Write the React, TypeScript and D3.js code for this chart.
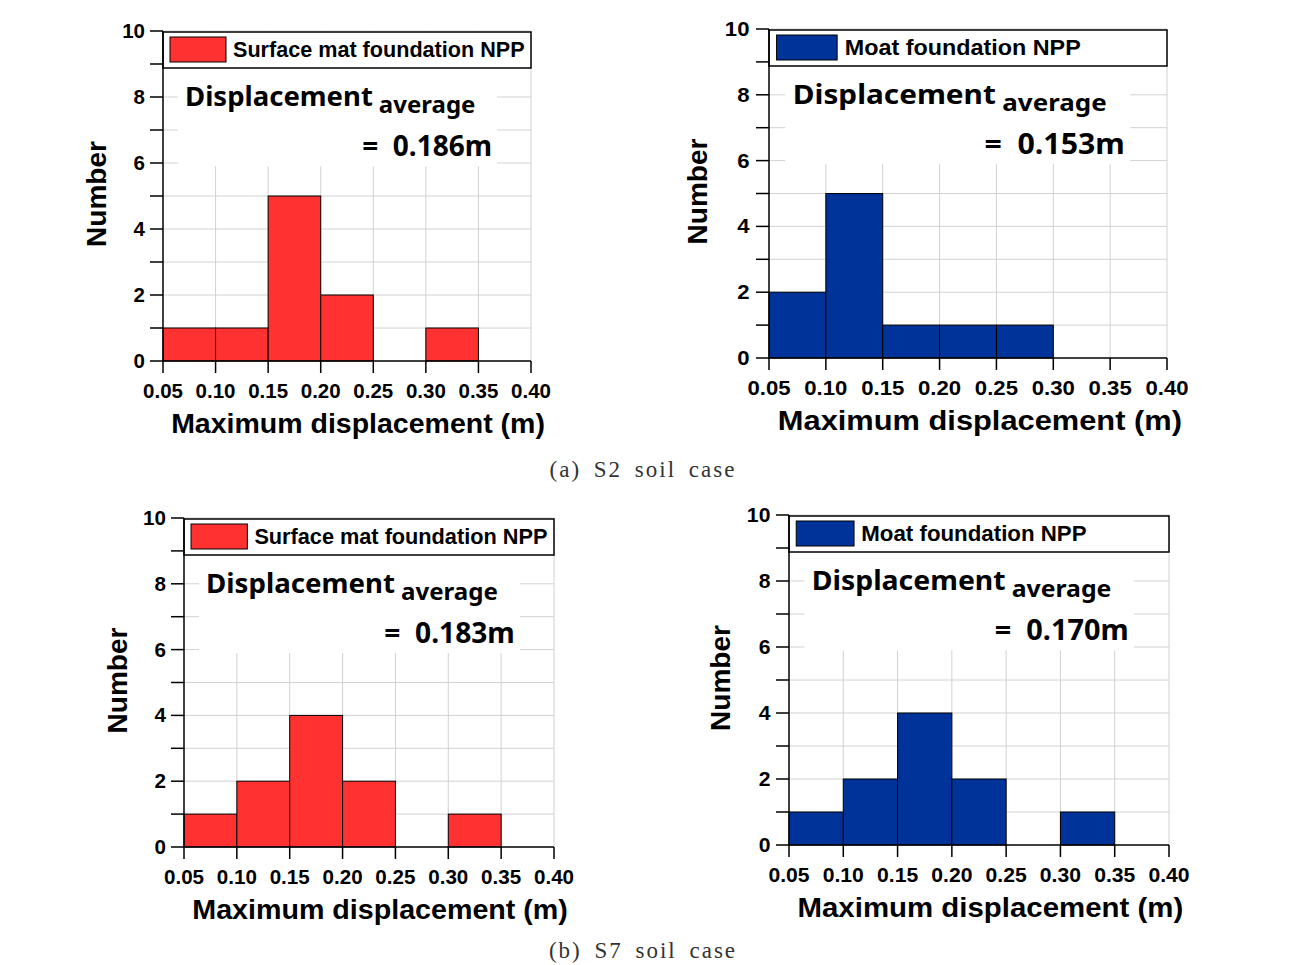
import React, { useEffect, useRef } from 'react';
import * as d3 from 'd3';

// bin edges of the histograms (m)
const binEdges = [0.05, 0.1, 0.15, 0.2, 0.25, 0.3, 0.35, 0.4];
const xTickLabels = ['0.05', '0.10', '0.15', '0.20', '0.25', '0.30', '0.35', '0.40'];
const yMinorTicks = [0, 1, 2, 3, 4, 5, 6, 7, 8, 9, 10];
const yTickLabels = [0, 2, 4, 6, 8, 10];

// counts per bin
const s2Mat = [1, 1, 5, 2, 0, 1, 0];
const s2Moat = [2, 5, 1, 1, 1, 0, 0];
const s7Mat = [1, 2, 4, 2, 0, 1, 0];
const s7Moat = [1, 2, 4, 2, 0, 1, 0];

const averages = ['0.186', '0.153', '0.183', '0.170'];
const legendNames = ['Surface mat foundation NPP', 'Moat foundation NPP'];
const captions = ['(a) S2 soil case', '(b) S7 soil case'];

const RED = '#FF3131';
const BLUE = '#003399';
const GRID = '#d2d2d2';
const SANS = '"Liberation Sans", Arial, sans-serif';
const NOTE_FONT = '"Noto Sans", "Open Sans", sans-serif';

// panel placement on the page
const panels = [
  { counts: s2Mat, color: RED, name: legendNames[0], avg: averages[0], left: 163, right: 531, bottom: 361, top: 31 },
  { counts: s2Moat, color: BLUE, name: legendNames[1], avg: averages[1], left: 769, right: 1167, bottom: 358, top: 29 },
  { counts: s7Mat, color: RED, name: legendNames[0], avg: averages[2], left: 184, right: 554, bottom: 847, top: 518 },
  { counts: s7Moat, color: BLUE, name: legendNames[1], avg: averages[3], left: 789, right: 1169, bottom: 845, top: 515 },
];

export default function App() {
  const svgRef = useRef<SVGSVGElement>(null);

  useEffect(() => {
    if (!svgRef.current) return;
    const svg = d3.select(svgRef.current);
    svg.selectAll('*').remove();

    panels.forEach(p => {
      const sx = (p.right - p.left) / 368;
      const x = d3.scaleLinear().domain([0.05, 0.4]).range([p.left, p.right]);
      const y = d3.scaleLinear().domain([0, 10]).range([p.bottom, p.top]);
      const g = svg.append('g');

      // text helper, stretched horizontally like the source
      const label = (tx: number, ty: number, str: string, size: number, anchor = 'start') =>
        g.append('text')
          .attr('transform', `translate(${tx},${ty}) scale(${sx},1)`)
          .attr('text-anchor', anchor)
          .style('font-family', SANS)
          .style('font-weight', 'bold')
          .style('font-size', `${size}px`)
          .style('fill', '#000')
          .text(str);

      // grid
      g.selectAll('line.hgrid')
        .data(yMinorTicks.slice(1))
        .join('line')
        .attr('x1', p.left).attr('x2', p.right)
        .attr('y1', d => y(d)).attr('y2', d => y(d))
        .attr('stroke', GRID).attr('stroke-width', 1);
      g.selectAll('line.vgrid')
        .data(binEdges.slice(1))
        .join('line')
        .attr('x1', d => x(d)).attr('x2', d => x(d))
        .attr('y1', p.bottom).attr('y2', p.top)
        .attr('stroke', GRID).attr('stroke-width', 1);

      // bars
      g.selectAll('rect.bar')
        .data(p.counts.map((c, i) => ({ c, i })).filter(d => d.c > 0))
        .join('rect')
        .attr('x', d => x(binEdges[d.i]))
        .attr('width', d => x(binEdges[d.i + 1]) - x(binEdges[d.i]))
        .attr('y', d => y(d.c))
        .attr('height', d => y(0) - y(d.c))
        .attr('fill', p.color)
        .attr('stroke', '#000')
        .attr('stroke-width', 1);

      // white box behind the average note
      g.append('rect')
        .attr('x', p.left + 15 * sx)
        .attr('y', y(9))
        .attr('width', p.right - 34 * sx - (p.left + 15 * sx))
        .attr('height', y(5.9) - y(9))
        .attr('fill', '#fff');

      const note = g.append('text')
        .attr('transform', `translate(${p.left + 22 * sx},${p.top + 75}) scale(${sx},1)`)
        .style('font-family', NOTE_FONT)
        .style('font-weight', 'bold')
        .style('font-size', '27.5px');
      note.append('tspan').text('Displacement');
      note.append('tspan').attr('dx', 6).attr('dy', 7).style('font-size', '24px').text('average');

      g.append('text')
        .attr('transform', `translate(${p.right - 39 * sx},${p.top + 125}) scale(${sx},1)`)
        .attr('text-anchor', 'end')
        .style('font-family', NOTE_FONT)
        .style('font-weight', 'bold')
        .style('font-size', '28px')
        .style('white-space', 'pre')
        .text(`=  ${p.avg}m`);

      // legend
      g.append('rect')
        .attr('x', p.left).attr('y', p.top + 1)
        .attr('width', p.right - p.left).attr('height', 36)
        .attr('fill', '#fff').attr('stroke', '#000').attr('stroke-width', 1.5);
      g.append('rect')
        .attr('x', p.left + 7 * sx).attr('y', p.top + 6)
        .attr('width', 56 * sx).attr('height', 25)
        .attr('fill', p.color).attr('stroke', '#000').attr('stroke-width', 1);
      label(p.left + 70 * sx, p.top + 26, p.name, 21.6);

      // y axis
      g.append('line')
        .attr('x1', p.left).attr('x2', p.left)
        .attr('y1', p.bottom).attr('y2', p.top)
        .attr('stroke', '#000').attr('stroke-width', 1.5);
      g.selectAll('line.ytick')
        .data(yMinorTicks)
        .join('line')
        .attr('x1', p.left - 13).attr('x2', p.left)
        .attr('y1', d => y(d)).attr('y2', d => y(d))
        .attr('stroke', '#000').attr('stroke-width', 1.5);
      yTickLabels.forEach(v => {
        label(p.left - 18 * sx, y(v) + 7, String(v), 20.5, 'end');
      });

      // x axis
      g.append('line')
        .attr('x1', p.left).attr('x2', p.right)
        .attr('y1', p.bottom).attr('y2', p.bottom)
        .attr('stroke', '#000').attr('stroke-width', 1.5);
      g.selectAll('line.xtick')
        .data(binEdges)
        .join('line')
        .attr('x1', d => x(d)).attr('x2', d => x(d))
        .attr('y1', p.bottom).attr('y2', p.bottom + 12)
        .attr('stroke', '#000').attr('stroke-width', 1.5);
      binEdges.forEach((v, i) => {
        label(x(v), p.bottom + 37, xTickLabels[i], 20.5, 'middle');
      });

      // axis titles
      label((p.left + p.right) / 2 + 11 * sx, p.bottom + 72, 'Maximum displacement (m)', 28.5, 'middle');
      g.append('text')
        .attr('transform', `translate(${p.left - 57 * sx},${(p.top + p.bottom) / 2 - 2}) rotate(-90)`)
        .attr('text-anchor', 'middle')
        .style('font-family', SANS)
        .style('font-weight', 'bold')
        .style('font-size', '28px')
        .text('Number');
    });

    // captions
    [477, 958].forEach((cy, i) => {
      svg.append('text')
        .attr('x', 643).attr('y', cy)
        .attr('text-anchor', 'middle')
        .style('font-family', '"Liberation Serif", "DejaVu Serif", serif')
        .style('font-size', '23px')
        .style('letter-spacing', '2px')
        .style('word-spacing', '5px')
        .style('fill', '#333')
        .text(captions[i]);
    });
  }, []);

  return (
    <svg
      ref={svgRef}
      width={1310}
      height={965}
      style={{ position: 'absolute', left: 0, top: 0, background: '#fff' }}
    />
  );
}
